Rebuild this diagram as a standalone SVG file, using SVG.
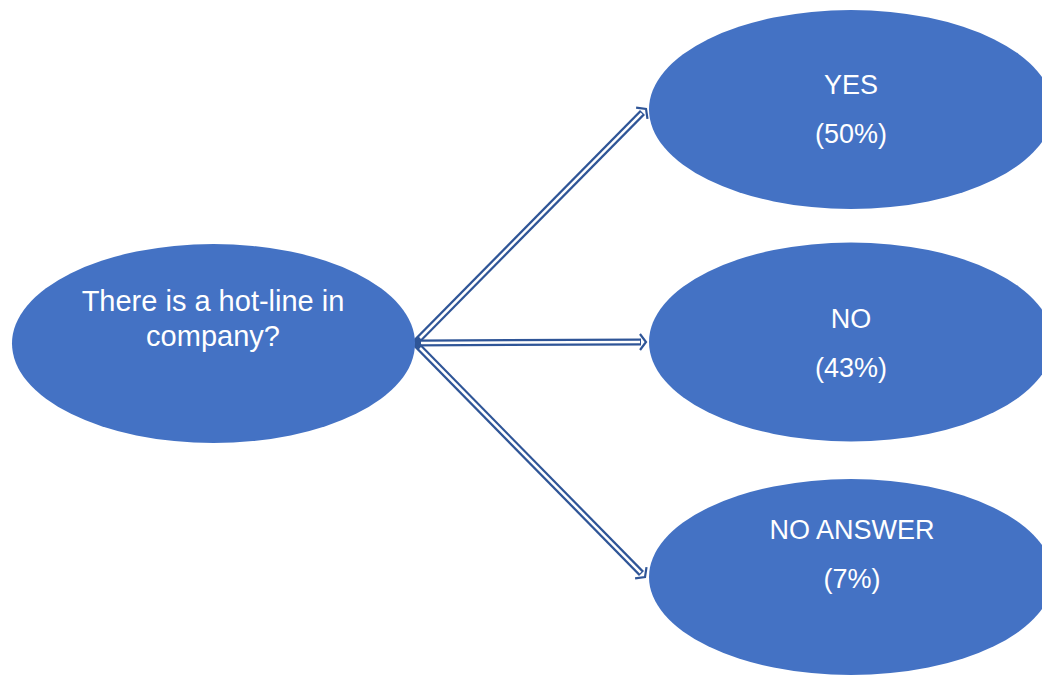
<svg xmlns="http://www.w3.org/2000/svg" width="1042" height="675" viewBox="0 0 1042 675">
  <style>
    .node { fill: #4472C4; }
    .label { font-family: "Liberation Sans", Arial, sans-serif; font-size: 29px; fill: #FFFFFF; text-anchor: middle; }
    .small { font-size: 27px; }
    .outer { stroke: #2F5597; stroke-width: 7; fill: none; }
    .inner { stroke: #FFFFFF; stroke-width: 2.5; fill: none; }
  </style>
  <defs>
    <marker id="chev" viewBox="-10 -10 20 20" refX="0" refY="0" markerWidth="20" markerHeight="20" markerUnits="userSpaceOnUse" orient="auto">
      <path d="M-1,-8 L5,0 L-1,8" fill="none" stroke="#2F5597" stroke-width="2.2"/>
    </marker>
  </defs>
  <rect width="1042" height="675" fill="#FFFFFF"/>

  <g id="connectors">
    <g id="c-yes">
      <line class="outer" x1="415" y1="343" x2="642.5" y2="112.5" marker-end="url(#chev)"/>
      <line class="inner" x1="420" y1="338" x2="641.6" y2="113.4"/>
    </g>
    <g id="c-no">
      <line class="outer" x1="415" y1="343" x2="641" y2="342" marker-end="url(#chev)"/>
      <line class="inner" x1="421" y1="343" x2="640" y2="342"/>
    </g>
    <g id="c-noanswer">
      <line class="outer" x1="415" y1="343" x2="641.5" y2="573.5" marker-end="url(#chev)"/>
      <line class="inner" x1="420" y1="348" x2="640.6" y2="572.6"/>
    </g>
  </g>

  <g id="node-question">
    <ellipse class="node" cx="213.5" cy="343.5" rx="201.5" ry="99.5"/>
    <text class="label" x="213" y="311">There is a hot-line in</text>
    <text class="label" x="213" y="346">company?</text>
  </g>

  <g id="node-yes">
    <ellipse class="node" cx="851" cy="109.5" rx="202" ry="99.5"/>
    <text class="label small" x="851" y="94">YES</text>
    <text class="label small" x="851" y="143">(50%)</text>
  </g>

  <g id="node-no">
    <ellipse class="node" cx="851" cy="342" rx="202" ry="99.5"/>
    <text class="label small" x="851" y="328">NO</text>
    <text class="label small" x="851" y="377">(43%)</text>
  </g>

  <g id="node-noanswer">
    <ellipse class="node" cx="851" cy="577" rx="202" ry="98"/>
    <text class="label small" x="852" y="539">NO ANSWER</text>
    <text class="label small" x="852" y="588">(7%)</text>
  </g>
</svg>
